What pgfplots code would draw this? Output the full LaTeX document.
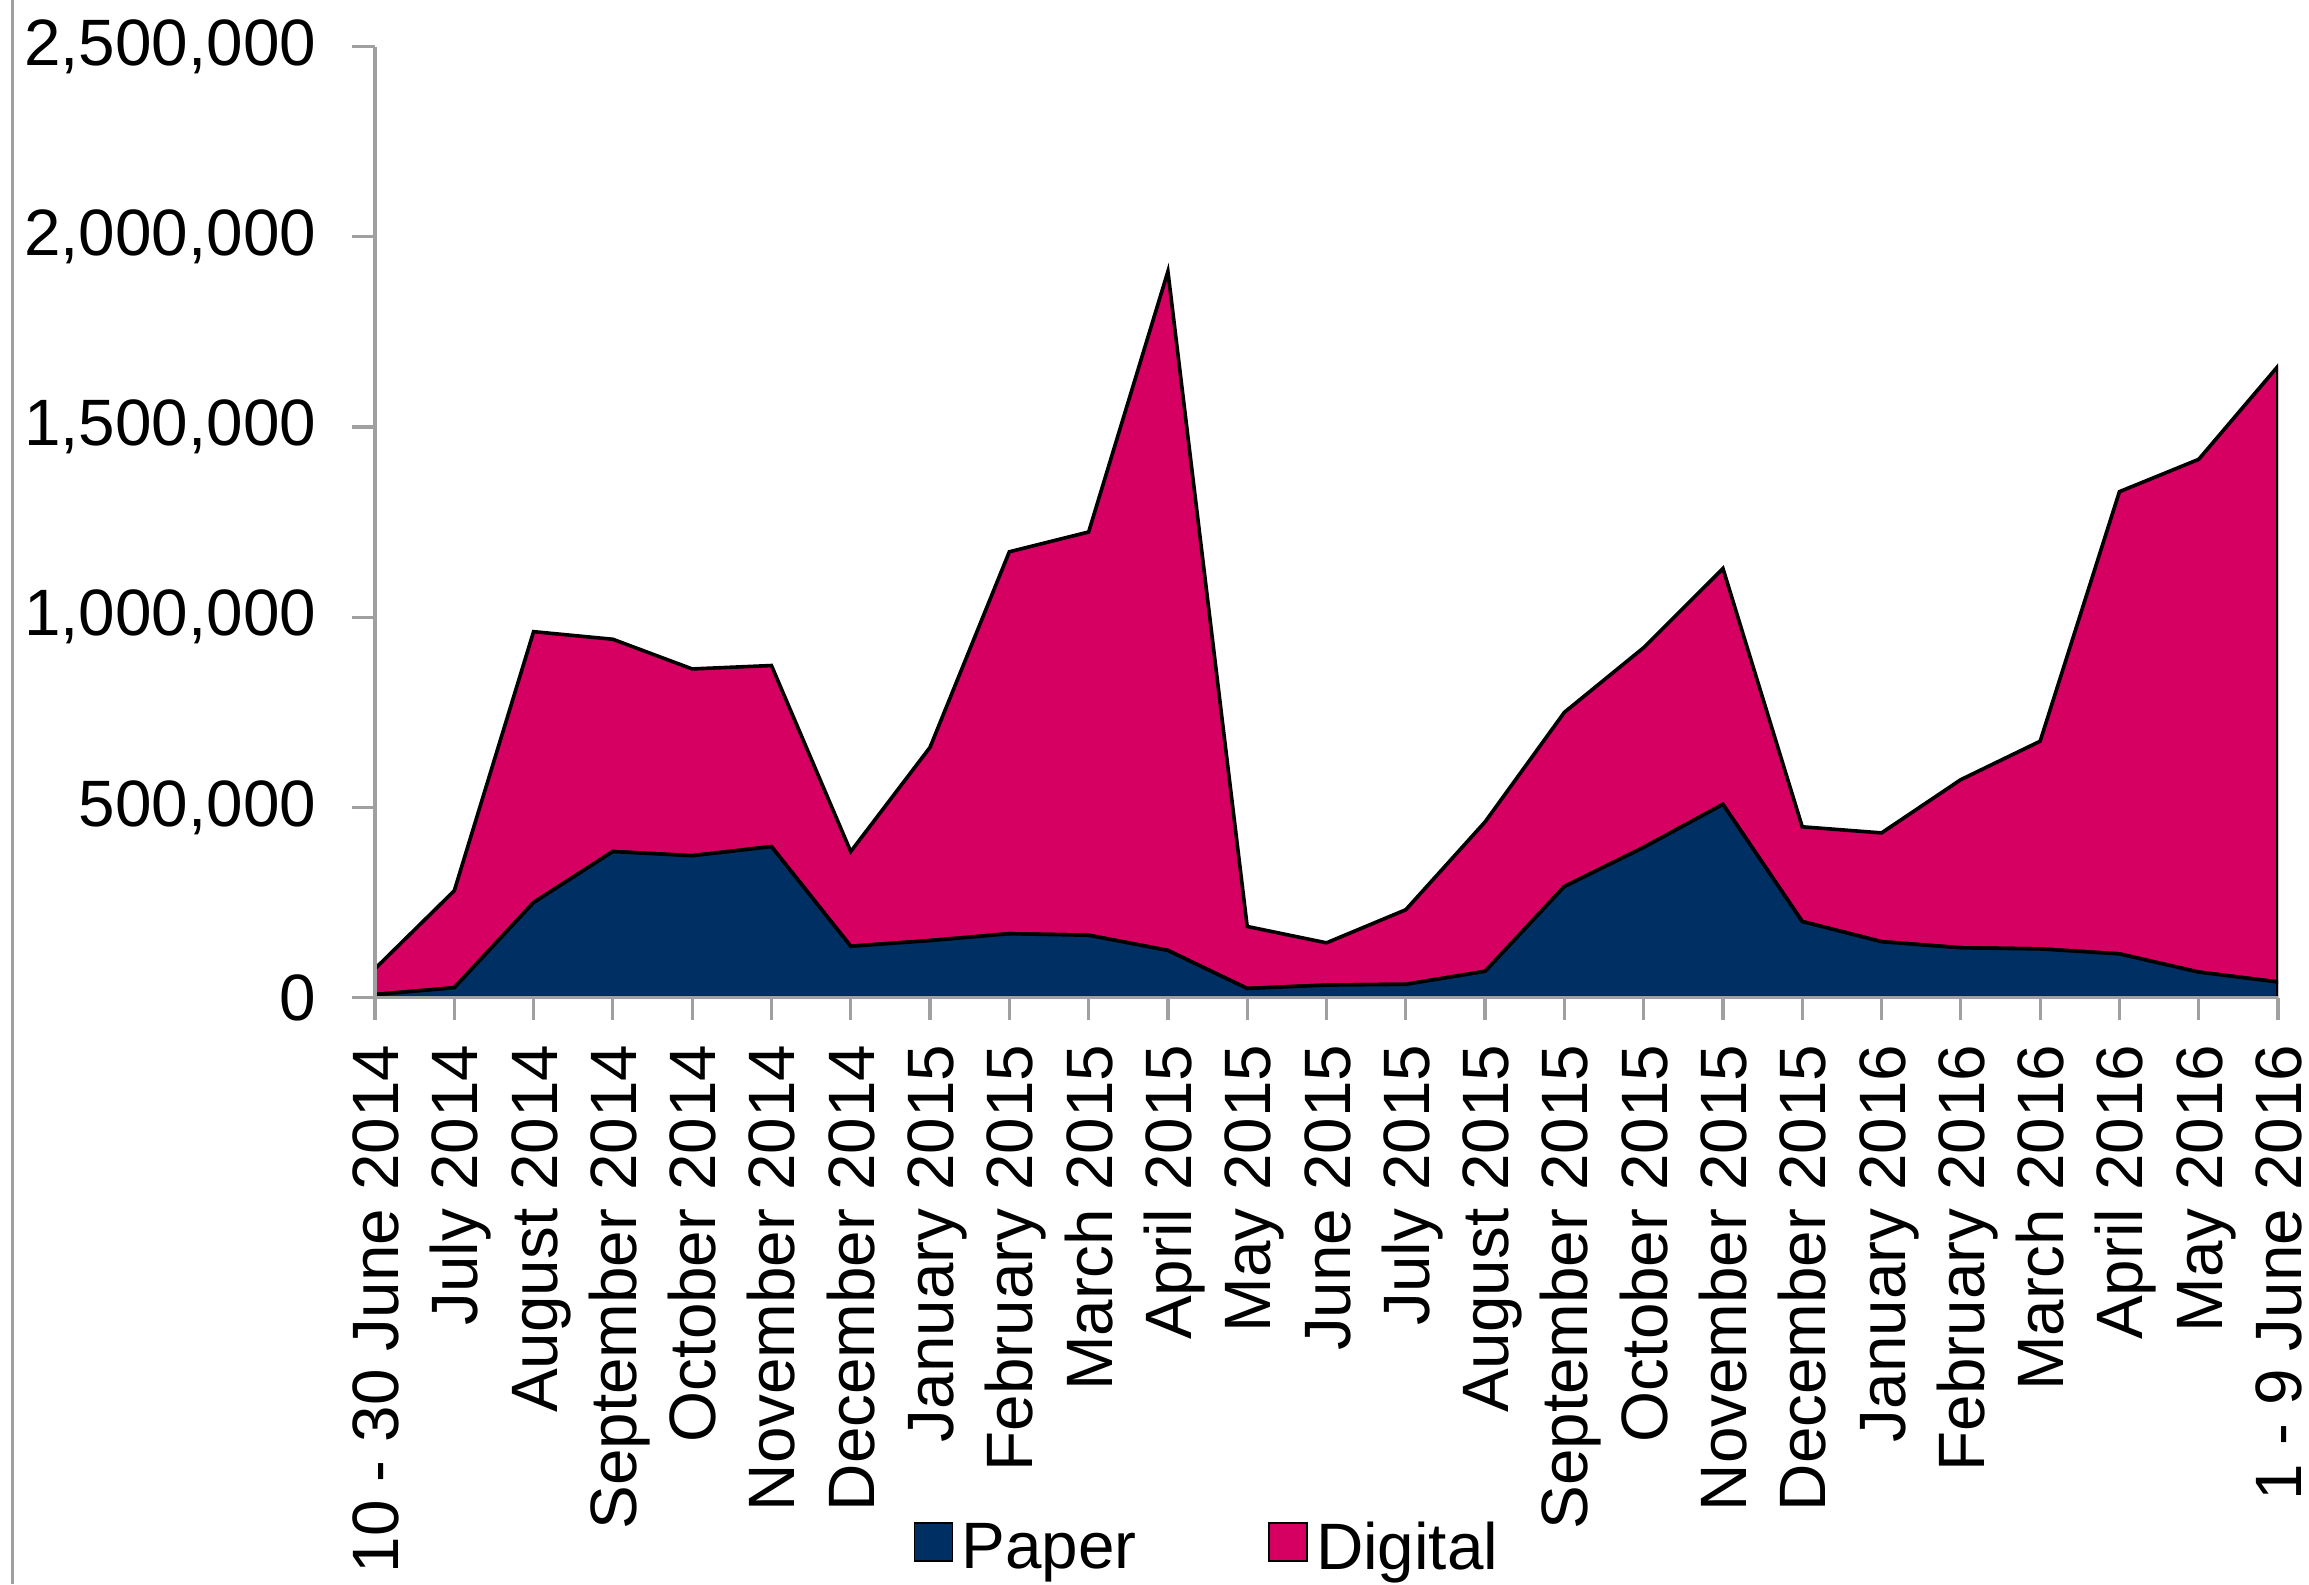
\documentclass[border=0pt]{standalone}
\usepackage{fontspec}
\setmainfont{Liberation Sans}
\usepackage{pgfplots}
\pgfplotsset{compat=1.18}
\definecolor{paper}{RGB}{0,48,99}
\definecolor{digital}{RGB}{214,0,99}
\definecolor{axgray}{RGB}{160,160,160}
\begin{document}
\begin{tikzpicture}
\begin{axis}[
  at={(0,0)}, anchor=south west,
  scale only axis, width=475.75pt, height=237.75pt,
  xmin=0, xmax=24, ymin=0, ymax=2500000,
  stack plots=y,
  axis x line=bottom, axis y line=left,
  axis line style={axgray, line width=0.8pt, -},
  axis on top,
  xtick={0,...,24},
  xticklabels={10 - 30 June 2014, July 2014, August 2014, September 2014, October 2014, November 2014, December 2014, January 2015, February 2015, March 2015, April 2015, May 2015, June 2015, July 2015, August 2015, September 2015, October 2015, November 2015, December 2015, January 2016, February 2016, March 2016, April 2016, May 2016, 1 - 9 June 2016},
  ytick={0,500000,1000000,1500000,2000000,2500000},
  scaled y ticks=false,
  /pgf/number format/assume math mode=true,
  yticklabel style={/pgf/number format/fixed, /pgf/number format/1000 sep={,}, xshift=-5.5pt},
  tick align=outside, major tick length=5.7pt,
  tick style={axgray, line width=0.8pt},
  tick label style={font=\fontsize{16.4}{19.7}\selectfont},
  xticklabel style={rotate=90, anchor=east, text height=11.75pt, text depth=0pt, inner ysep=0pt, xshift=-2.5pt},
  legend style={at={(0.4388,-0.580)}, anchor=center, legend columns=2, draw=none, fill=none,
    font=\fontsize{16.4}{19.7}\selectfont,
    /tikz/every even column/.append style={column sep=31pt}},
  legend image code/.code={\draw[#1, draw=black, line width=0.4pt] (0pt,-3pt) rectangle (9.5pt,6.5pt);},
]
\addplot[fill=paper, draw=black, line width=0.9pt] coordinates {
(0,8000) (1,26000) (2,250000) (3,384000) (4,373000) (5,397000) (6,135000) (7,150000) (8,168000) (9,164000) (10,124000) (11,24000) (12,33000) (13,35000) (14,69000) (15,292000) (16,395000) (17,508000) (18,200000) (19,147000) (20,131000) (21,128000) (22,115000) (23,67000) (24,41000)
} \closedcycle;
\addlegendentry{Paper}
\addplot[fill=digital, draw=black, line width=0.9pt] coordinates {
(0,68000) (1,255000) (2,712000) (3,558000) (4,491000) (5,476000) (6,249000) (7,508000) (8,1004000) (9,1060000) (10,1785000) (11,163000) (12,111000) (13,196000) (14,393000) (15,458000) (16,525000) (17,620000) (18,249000) (19,286000) (20,442000) (21,546000) (22,1215000) (23,1348000) (24,1619000)
} \closedcycle;
\addlegendentry{Digital}
\end{axis}
\pgfresetboundingbox
\useasboundingbox (-93.75pt,-146.6pt) rectangle (483.5pt,249.4pt);
\draw[axgray, line width=0.8pt] (-90.6pt,-146.6pt) -- (-90.6pt,249.4pt);
\end{tikzpicture}
\end{document}
